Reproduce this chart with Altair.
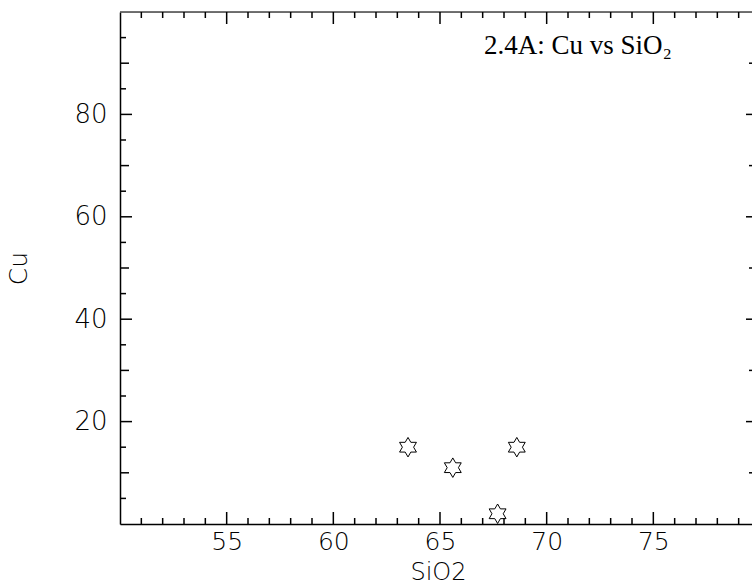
import altair as alt
import pandas as pd

# Sample measurements
sio2 = [63.5, 65.6, 67.7, 68.6]
cu = [15, 11, 2, 15]

# Axis settings
x_domain = [50, 79.625]
y_domain = [0, 100]
x_major = [55, 60, 65, 70, 75]
x_minor = [v for v in range(51, 80) if v % 5 != 0]
y_major = [20, 40, 60, 80]
y_mid = [10, 30, 50, 70, 90]
y_minor = [5, 15, 25, 35, 45, 55, 65, 75, 85, 95]

panel_label = ["2.4A: Cu vs SiO\u2082"]

W, H = 632, 512
FONT = "DejaVu Sans"

# Six-pointed star outline
HEXAGRAM = ("M0,-1 L0.2887,-0.5 L0.866,-0.5 L0.577,0 L0.866,0.5 L0.2887,0.5 "
            "L0,1 L-0.2887,0.5 L-0.866,0.5 L-0.577,0 L-0.866,-0.5 L-0.2887,-0.5 Z")

pts = pd.DataFrame({"SiO2": sio2, "Cu": cu})

xs = alt.Scale(domain=x_domain, nice=False, zero=False)
ys = alt.Scale(domain=y_domain, nice=False, zero=False)

points = alt.Chart(pts).mark_point(
    shape=HEXAGRAM, size=380, filled=False, stroke="black", strokeWidth=1, opacity=1
).encode(
    x=alt.X("SiO2:Q", scale=xs, title="SiO2",
            axis=alt.Axis(values=x_major, ticks=False, grid=False, domain=True,
                          domainColor="black", domainWidth=1.5,
                          labelFont=FONT, labelFontSize=25, labelFontWeight=200,
                          labelColor="black", labelPadding=5, labelFlush=False,
                          titleFont=FONT, titleFontSize=24, titleFontWeight=200,
                          titleColor="black", titleBaseline="alphabetic",
                          titleX=318, titleY=55)),
    y=alt.Y("Cu:Q", scale=ys, title="Cu",
            axis=alt.Axis(values=y_major, ticks=False, grid=False, domain=True,
                          domainColor="black", domainWidth=1.5,
                          labelFont=FONT, labelFontSize=26, labelFontWeight=200,
                          labelColor="black", labelPadding=13, labelFlush=False,
                          titleFont=FONT, titleFontSize=25, titleFontWeight=200,
                          titleColor="black", titlePadding=42)),
)


def xticks(values, length):
    df = pd.DataFrame({"v": values})
    bottom = alt.Chart(df).mark_rule(color="black", strokeWidth=1.5).encode(
        x=alt.X("v:Q", scale=xs), y=alt.value(H), y2=alt.value(H - length))
    top = alt.Chart(df).mark_rule(color="black", strokeWidth=1.5).encode(
        x=alt.X("v:Q", scale=xs), y=alt.value(0), y2=alt.value(length))
    return [bottom, top]


def yticks(values, length):
    df = pd.DataFrame({"v": values})
    left = alt.Chart(df).mark_rule(color="black", strokeWidth=1.5).encode(
        y=alt.Y("v:Q", scale=ys), x=alt.value(0), x2=alt.value(length))
    right = alt.Chart(df).mark_rule(color="black", strokeWidth=1.5).encode(
        y=alt.Y("v:Q", scale=ys), x=alt.value(W + 6), x2=alt.value(W + 6 - length))
    return [left, right]


frame_top = alt.Chart(pd.DataFrame({"v": [0]})).mark_rule(
    color="#444", strokeWidth=1.5
).encode(x=alt.value(0), x2=alt.value(W + 6), y=alt.value(0))

label = alt.Chart(pd.DataFrame({"t": panel_label})).mark_text(
    font="Liberation Serif", fontSize=27, color="black", align="left", baseline="alphabetic"
).encode(text="t:N", x=alt.value(364), y=alt.value(42))

layers = [frame_top]
layers += xticks(x_major, 12) + xticks(x_minor, 6)
layers += yticks(y_major, 12) + yticks(y_mid, 9) + yticks(y_minor, 6)
layers += [label, points]

chart = alt.layer(*layers).resolve_axis(x="shared", y="shared").properties(
    width=W, height=H,
    autosize=alt.AutoSizeParams(type="none"),
    padding={"left": 120, "top": 12, "right": 0, "bottom": 60},
).configure_view(stroke=None).configure(background="white")

chart.save("out.html", embed_options={"renderer": "svg", "actions": False})
